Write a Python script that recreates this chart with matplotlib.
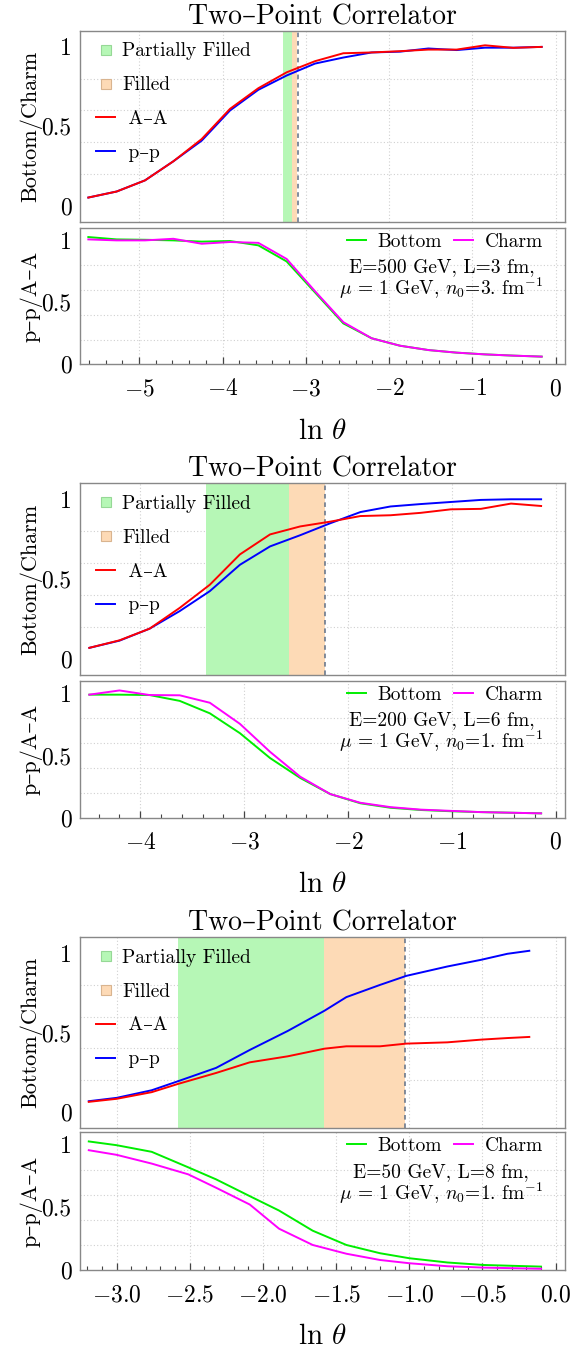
import matplotlib
matplotlib.use("Agg")
import matplotlib.pyplot as plt
from matplotlib.lines import Line2D
from matplotlib.ticker import MultipleLocator, FixedLocator

plt.rcParams['font.family'] = ['cmr10', 'DejaVu Serif']
plt.rcParams['mathtext.fontset'] = 'cm'
plt.rcParams['axes.formatter.use_mathtext'] = True
plt.rcParams['axes.unicode_minus'] = True

# ---------------- data ----------------
p1_x = [-5.61, -5.27, -4.93, -4.59, -4.25, -3.91, -3.57, -3.23, -2.89, -2.55,
        -2.21, -1.87, -1.53, -1.19, -0.85, -0.51, -0.17]
p1_aa = [0.052, 0.09, 0.16, 0.28, 0.42, 0.61, 0.74, 0.84, 0.91, 0.96,
         0.965, 0.973, 0.983, 0.983, 1.01, 0.994, 1.0]
p1_pp = [0.052, 0.09, 0.16, 0.28, 0.41, 0.60, 0.73, 0.82, 0.895, 0.933,
         0.965, 0.97, 0.99, 0.98, 0.995, 0.995, 1.0]
p1_bottom = [1.027, 1.008, 1.005, 1.0, 0.99, 0.995, 0.96, 0.83, 0.58, 0.33,
             0.21, 0.15, 0.115, 0.094, 0.08, 0.07, 0.062]
p1_charm = [1.008, 1.0, 1.0, 1.013, 0.973, 0.987, 0.98, 0.85, 0.59, 0.34,
            0.21, 0.15, 0.115, 0.094, 0.08, 0.07, 0.062]

p2_x = [-4.49, -4.2, -3.91, -3.62, -3.33, -3.04, -2.75, -2.46, -2.17, -1.88,
        -1.59, -1.3, -1.01, -0.72, -0.43, -0.14]
p2_aa = [0.07, 0.117, 0.19, 0.32, 0.465, 0.655, 0.78, 0.83, 0.86, 0.895,
         0.90, 0.915, 0.937, 0.94, 0.973, 0.958]
p2_pp = [0.07, 0.115, 0.19, 0.30, 0.425, 0.59, 0.705, 0.775, 0.85, 0.92,
         0.955, 0.97, 0.983, 0.996, 1.0, 1.0]
p2_bottom = [0.99, 0.99, 0.987, 0.94, 0.84, 0.68, 0.48, 0.32, 0.19, 0.116,
             0.08, 0.062, 0.052, 0.045, 0.04, 0.035]
p2_charm = [0.99, 1.024, 0.987, 0.985, 0.925, 0.755, 0.53, 0.33, 0.19, 0.12,
            0.085, 0.065, 0.055, 0.045, 0.04, 0.035]

p3_x = [-3.19, -3.0, -2.76, -2.58, -2.32, -2.09, -1.83, -1.58, -1.43, -1.2,
        -1.02, -0.74, -0.51, -0.33, -0.18]
p3_aa = [0.063, 0.082, 0.124, 0.176, 0.245, 0.312, 0.35, 0.398, 0.413, 0.413,
         0.43, 0.438, 0.455, 0.465, 0.472]
p3_pp = [0.067, 0.088, 0.136, 0.193, 0.277, 0.39, 0.51, 0.637, 0.723, 0.80,
         0.857, 0.916, 0.958, 0.996, 1.015]
p3_xr = [-3.19, -3.0, -2.76, -2.51, -2.32, -2.09, -1.89, -1.66, -1.43, -1.2,
         -1.0, -0.74, -0.49, -0.10]
p3_bottom = [1.027, 0.997, 0.944, 0.82, 0.724, 0.59, 0.475, 0.314, 0.2, 0.134,
             0.094, 0.06, 0.04, 0.027]
p3_charm = [0.957, 0.92, 0.85, 0.764, 0.657, 0.523, 0.33, 0.2, 0.13, 0.08,
            0.054, 0.03, 0.019, 0.01]

# regions: (partial start, partial end = filled start, filled end / dashed line)
regions = [(-3.27, -3.17, -3.10), (-3.37, -2.57, -2.22), (-2.58, -1.58, -1.03)]
xlims = [(-5.71, 0.11), (-4.58, 0.09), (-3.25, 0.064)]
params = [("E=500 GeV, L=3 fm,", r"$\mu$ = 1 GeV, $n_0$=3. fm$^{-1}$"),
          ("E=200 GeV, L=6 fm,", r"$\mu$ = 1 GeV, $n_0$=1. fm$^{-1}$"),
          ("E=50 GeV, L=8 fm,", r"$\mu$ = 1 GeV, $n_0$=1. fm$^{-1}$")]
title_text = "Two–Point Correlator"
label_aa = " A–A"
label_pp = " p–p"
label_partial = "Partially Filled"
label_filled = "Filled"
ytick_vals = [0, 0.5, 1]
ytick_labels = ['0', '0.5', '1']
ygrid_vals = [0, 0.2, 0.4, 0.6, 0.8, 1.0]

panels = [
    (p1_x, p1_aa, p1_pp, p1_x, p1_bottom, p1_charm),
    (p2_x, p2_aa, p2_pp, p2_x, p2_bottom, p2_charm),
    (p3_x, p3_aa, p3_pp, p3_xr, p3_bottom, p3_charm),
]

# ---------------- style ----------------
C_RED = '#ff0000'
C_BLUE = '#0000ff'
C_GREEN = '#00ee00'
C_MAG = '#ff00ff'
C_PART = '#b6f7b6'
C_FILL = '#fddab6'
C_DASH = '#5f6f86'
C_SPINE = '#888888'
C_GRID = '#d0d0d0'

W, H = 580, 1351
fig = plt.figure(figsize=(W / 100, H / 100), dpi=100)

left = 80 / W
width = 485 / W
upper_tb = [(31, 221.7), (483.3, 675), (937.3, 1127.7)]
lower_tb = [(228, 364.3), (681, 817.7), (1132.3, 1270)]


def frac(t, b):
    return [left, 1 - b / H, width, (b - t) / H]


def style_axes(ax):
    for s in ax.spines.values():
        s.set_color(C_SPINE)
        s.set_linewidth(1.0)
    ax.set_yticks(ytick_vals)
    ax.set_yticklabels(ytick_labels)
    ax.yaxis.set_minor_locator(FixedLocator(ygrid_vals))
    ax.grid(False)
    ax.grid(True, axis='y', which='minor', color=C_GRID, linestyle=(0, (1, 2)), linewidth=0.8)
    ax.grid(True, axis='x', which='major', color=C_GRID, linestyle=(0, (1, 2)), linewidth=0.8)
    ax.tick_params(axis='y', which='both', direction='in', length=0, labelsize=17, pad=6)
    ax.set_axisbelow(True)


for i, (xa, aa, pp, xr, bo, ch) in enumerate(panels):
    ax1 = fig.add_axes(frac(*upper_tb[i]))
    ax2 = fig.add_axes(frac(*lower_tb[i]), sharex=ax1)

    if i < 2:
        ax2.xaxis.set_major_locator(MultipleLocator(1))
        ax2.xaxis.set_minor_locator(MultipleLocator(0.2))
    else:
        ax2.xaxis.set_major_locator(MultipleLocator(0.5))
        ax2.xaxis.set_minor_locator(MultipleLocator(0.1))

    style_axes(ax1)
    ax1.set_ylim(-0.1, 1.1)
    style_axes(ax2)
    ax2.set_ylim(0, 1.1)

    g0, g1, g2 = regions[i]
    ax1.axvspan(g0, g1, color=C_PART, lw=0, zorder=1)
    ax1.axvspan(g1, g2, color=C_FILL, lw=0, zorder=1)
    ax1.axvline(g2, color=C_DASH, ls=(0, (3, 2.5)), lw=1.1, zorder=2)

    ax1.plot(xa, pp, color=C_BLUE, lw=1.4, zorder=3)
    ax1.plot(xa, aa, color=C_RED, lw=1.4, zorder=4)

    ax1.set_xlim(*xlims[i])
    ax1.set_title(title_text, fontsize=20, pad=5)
    ax1.set_ylabel("Bottom/Charm", fontsize=16)
    ax1.yaxis.set_label_coords(-0.078, 0.5)
    ax1.tick_params(axis='x', which='both', length=0, labelbottom=False)

    h_part = Line2D([], [], ls='none', marker='s', markersize=6.5,
                    markerfacecolor=C_PART, markeredgecolor='#96d896', markeredgewidth=0.8)
    h_fill = Line2D([], [], ls='none', marker='s', markersize=6.5,
                    markerfacecolor=C_FILL, markeredgecolor='#d9b48f', markeredgewidth=0.8)
    h_aa = Line2D([], [], color=C_RED, lw=1.4)
    h_pp = Line2D([], [], color=C_BLUE, lw=1.4)
    ax1.legend([h_part, h_fill, h_aa, h_pp], [label_partial, label_filled, label_aa, label_pp],
               loc='upper left', bbox_to_anchor=(0.033, 0.94), frameon=False, fontsize=14,
               handlelength=1.0, handletextpad=0.35, labelspacing=0.82, borderaxespad=0.0,
               borderpad=0.0)

    # lower panel
    ax2.plot(xr, bo, color=C_GREEN, lw=1.4, zorder=3, label="Bottom")
    ax2.plot(xr, ch, color=C_MAG, lw=1.4, zorder=4, label="Charm")
    ax2.set_xlim(*xlims[i])
    ax2.tick_params(axis='x', which='major', direction='in', length=5, width=0.9,
                    color='#444444', labelsize=17, pad=10)
    ax2.tick_params(axis='x', which='minor', direction='in', length=3, width=0.8,
                    color='#444444')
    ax2.set_ylabel("p–p/A–A", fontsize=16)
    ax2.yaxis.set_label_coords(-0.078, 0.5)
    ax2.set_xlabel(r"ln $\theta$", fontsize=21, labelpad=13)

    ax2.legend(loc='upper right', bbox_to_anchor=(0.955, 0.965), ncol=2, frameon=False,
               fontsize=14, handlelength=1.0, handletextpad=0.6, columnspacing=0.6,
               borderaxespad=0.0, borderpad=0.0)
    ax2.text(0.745, 0.714, params[i][0], transform=ax2.transAxes, ha='center',
             va='center', fontsize=14)
    ax2.text(0.745, 0.56, params[i][1], transform=ax2.transAxes, ha='center',
             va='center', fontsize=14)

fig.savefig("out.png", dpi=100)
